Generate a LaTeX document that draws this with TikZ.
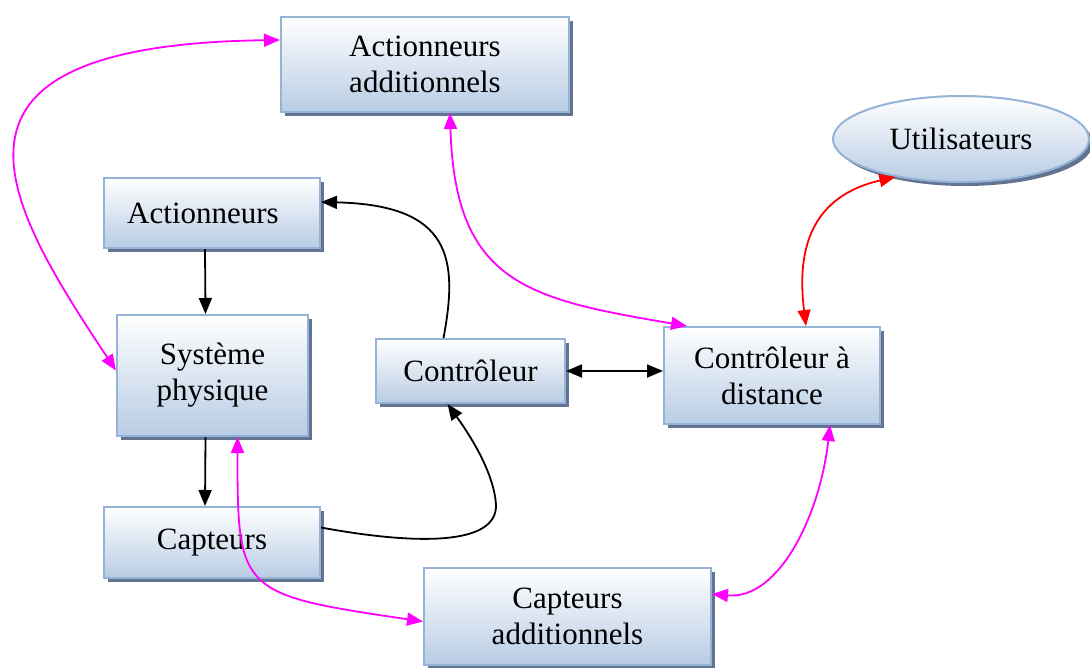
\documentclass[tikz,border=0pt]{standalone}
\usepackage{fontspec}
\setmainfont{Liberation Serif}
\usetikzlibrary{arrows.meta,shapes.geometric,shadows,patterns}
\definecolor{bordc}{RGB}{149,179,215}
\definecolor{botc}{RGB}{184,204,228}
\definecolor{shadc}{RGB}{31,56,100}
\definecolor{mag}{RGB}{255,0,255}
\definecolor{redc}{RGB}{255,0,0}
\begin{document}
\begin{tikzpicture}[x=1pt,y=-1pt,
  shapesty/.style={draw=bordc, line width=2pt, top color=white, bottom color=botc,
    inner sep=0pt, align=center, font=\fontsize{31}{36}\selectfont,
    drop shadow={shadow xshift=4pt, shadow yshift=-4pt, fill=shadc!70, opacity=1}},
  boxsty/.style={shapesty, rectangle},
  ellsty/.style={shapesty, ellipse},
  tip/.tip={Triangle[length=16pt,width=13pt]},
  arr/.style={-tip, line width=1.8pt},
  darr/.style={tip-tip, line width=1.8pt}]
\useasboundingbox (0,0) rectangle (1090,667);

\node[boxsty, minimum width=288pt, minimum height=95pt] (aa) at (425,64.5) {Actionneurs\\additionnels};
\node[ellsty, minimum width=256pt, minimum height=86pt] (util) at (961,139) {Utilisateurs};
\node[boxsty, minimum width=216pt, minimum height=70pt] (act) at (212,213) {Actionneurs\hspace*{18pt}};
\node[boxsty, minimum width=191pt, minimum height=121pt] (sys) at (212.5,375.5) {Système\\physique};
\node[boxsty, minimum width=189pt, minimum height=64pt] (ctrl) at (470.5,371) {Contrôleur};
\node[boxsty, minimum width=216pt, minimum height=97pt] (dist) at (772,375.5) {Contrôleur à\\distance};
\node[boxsty, minimum width=216pt, minimum height=71pt] (capt) at (212,542.5) {Capteurs};
\node[boxsty, minimum width=287pt, minimum height=97pt] (ca) at (567.5,616.5) {Capteurs\\additionnels};

% black connectors
\draw[arr] ([xshift=-7pt]act.south) -- ([xshift=-7pt]sys.north);
\draw[arr] ([xshift=-7pt]sys.south) -- ([xshift=-7pt]capt.north);
\draw[darr] (ctrl.east) -- (ctrl.east -| dist.west);
\draw[arr] ([xshift=-27pt]ctrl.north) .. controls +(15,-80) and +(130,3) .. ([yshift=11pt]act.east);
\draw[arr] ([yshift=15pt]capt.east) .. controls +(98,18) and +(1,40) .. (496,505)
  .. controls +(-2,-35) and +(18,25) .. ([xshift=-23pt]ctrl.south);

% magenta connectors
\draw[darr, mag] ([yshift=24.5pt]aa.west) .. controls +(-369,5) and +(-113,-170) .. ([yshift=5pt]sys.west);
\draw[darr, mag] ([xshift=25pt]aa.south) .. controls +(5,170) and +(-160,-27) .. ([xshift=-85pt]dist.north);
\draw[darr, mag] ([xshift=25pt]sys.south) .. controls +(0,155) and +(-184,-27) .. ([yshift=-5pt]ca.west);
\draw[darr, mag] ([xshift=58pt]dist.south) .. controls +(-10,90) and +(67,6) .. ([yshift=22.5pt]ca.east);

% red connector
\draw[darr, redc] (util.-150) .. controls +(-82,19) and +(-10,-80) .. ([xshift=34pt]dist.north);
\end{tikzpicture}
\end{document}
